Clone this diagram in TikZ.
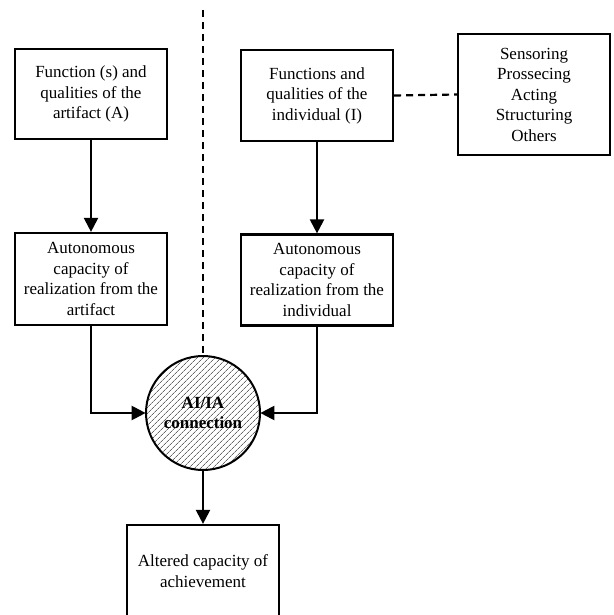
\documentclass[tikz,border=0pt]{standalone}
\usepackage{fontspec}
\setmainfont{Liberation Serif}
\usetikzlibrary{arrows.meta}
\usetikzlibrary{patterns.meta}
\tikzstyle{block} = [draw,line width=2.2pt,minimum width=152pt,inner sep=0pt,align=center,font=\fontsize{17}{20.5}\selectfont]
\tikzstyle{link} = [line width=2.2pt,-{Triangle[length=14pt,width=14pt]}]
\tikzstyle{dashlink} = [line width=2.2pt,dash pattern=on 7pt off 5pt]

\begin{document}
\begin{tikzpicture}[x=1pt,y=-1pt]
\clip (0,0) rectangle (613,615);

\draw(91,94) node[block,minimum height=90pt] (fa) {Function (s) and\\qualities of the\\artifact (A)};
\draw(317,95.5) node[block,minimum height=91pt] (fi) {Functions and\\qualities of the\\individual (I)};
\draw(534,94.5) node[block,minimum height=121pt] (sp) {Sensoring\\Prossecing\\Acting\\Structuring\\Others};

\draw(91,279) node[block,minimum height=92pt] (ra) {Autonomous\\capacity of\\realization from the\\artifact};
\draw(317,280) node[block,minimum height=91pt] (ri) {Autonomous\\capacity of\\realization from the\\individual};

%\draw(203,413) node (ai) {};
\draw(203,413) node[circle,draw,line width=2pt,minimum size=114pt,inner sep=0pt,
  pattern={Lines[angle=45,distance=4pt,line width=0.7pt]},pattern color=black!60,
  align=center,font=\bfseries\fontsize{17}{20}\selectfont] (ai) {AI/IA\\connection};

\draw(203,571) node[block,minimum height=92pt] (ac) {Altered capacity of\\achievement};

\coordinate (top) at (203,10);
\draw[dashlink] (top) -- (ai.north);
\draw[dashlink] (fi.east) -- (sp.west);

\draw[link] (fa) -- (ra);
\draw[link] (fi) -- (ri);
\draw[link] (ra.south) |- (ai.west);
\draw[link] (ri.south) |- (ai.east);
\draw[link] (ai) -- (ac);

\end{tikzpicture}
\end{document}
